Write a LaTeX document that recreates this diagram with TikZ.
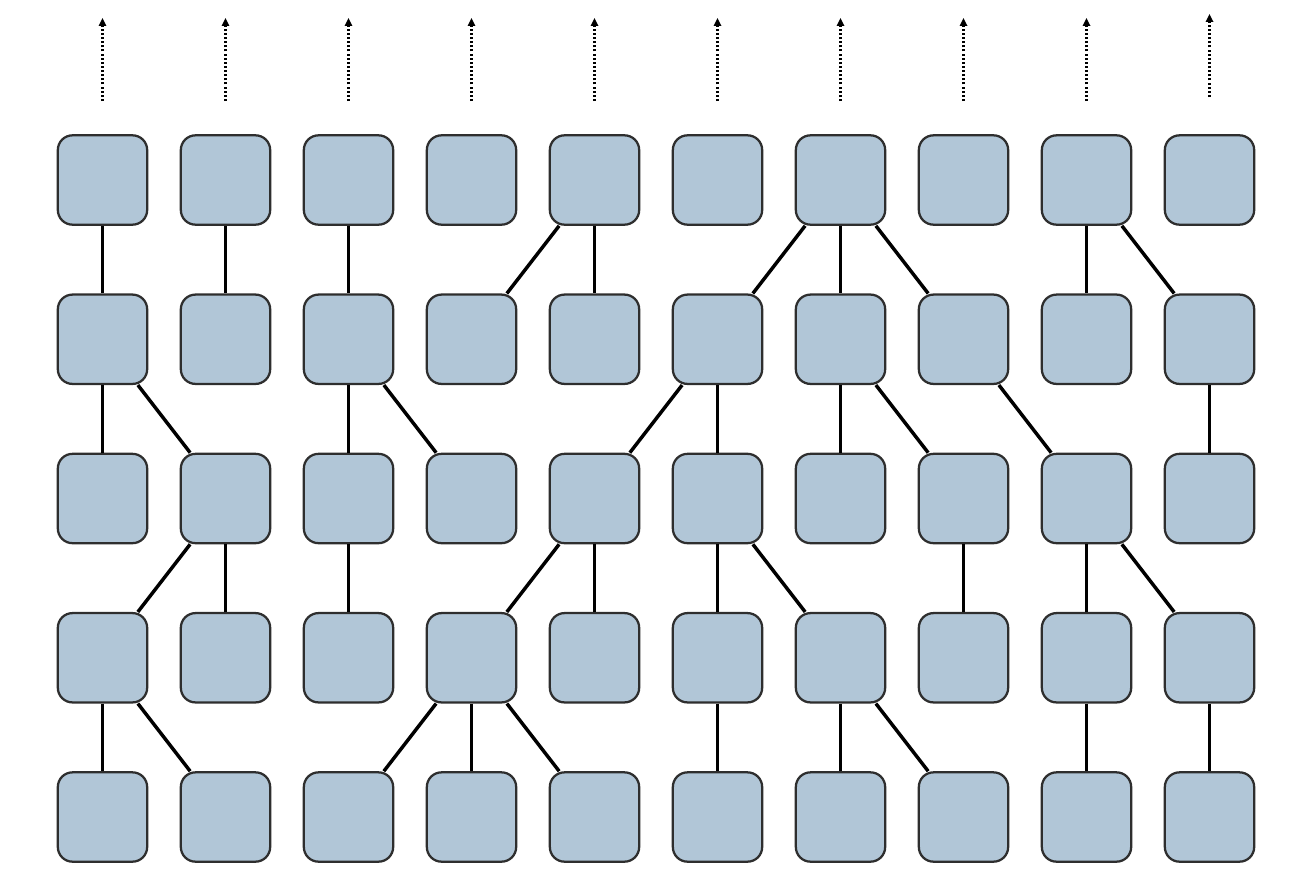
\documentclass[tikz,border=0pt]{standalone}
\usetikzlibrary{arrows.meta}
\definecolor{boxfill}{HTML}{B1C6D7}
\definecolor{boxdraw}{HTML}{2E2E2E}
\begin{document}
\begin{tikzpicture}[x=0.75pt,y=-0.75pt,
  cell/.style={draw=boxdraw,fill=boxfill,line width=1.7pt,rounded corners=11pt,minimum width=67pt,minimum height=67pt,inner sep=0pt},
  link/.style={line width=2.6pt,black},
  upflow/.style={line width=1.6pt,dash pattern=on 1.5pt off 1.6pt,-{Triangle[length=6pt,width=5.5pt]}}]
\useasboundingbox (0,0) rectangle (1312,892);
\foreach \c in {0,...,9}{
  \foreach \r in {0,...,4}{
    \node[cell] (n\r\c) at ({102.5+123*\c},{180+159.25*\r}) {};
  }
}
\foreach \c in {0,...,8}{
  \coordinate (b\c) at ({102.5+123*\c},101);
  \coordinate (t\c) at ({102.5+123*\c},18);
  \draw[upflow] (b\c) -- (t\c);
}
\coordinate (b9) at (1209.5,97);
\coordinate (t9) at (1209.5,14);
\draw[upflow] (b9) -- (t9);
% row 0 -> 1
\foreach \a/\b in {n00/n10,n01/n11,n02/n12,n04/n13,n04/n14,n06/n15,n06/n16,n06/n17,n08/n18,n08/n19,
% row 1 -> 2
n10/n20,n10/n21,n12/n22,n12/n23,n15/n24,n15/n25,n16/n26,n16/n27,n17/n28,n19/n29,
% row 2 -> 3
n21/n30,n21/n31,n22/n32,n24/n33,n24/n34,n25/n35,n25/n36,n27/n37,n28/n38,n28/n39,
% row 3 -> 4
n30/n40,n30/n41,n33/n42,n33/n43,n33/n44,n35/n45,n36/n46,n36/n47,n38/n48,n39/n49}
  \draw[link] (\a) -- (\b);
\end{tikzpicture}
\end{document}
